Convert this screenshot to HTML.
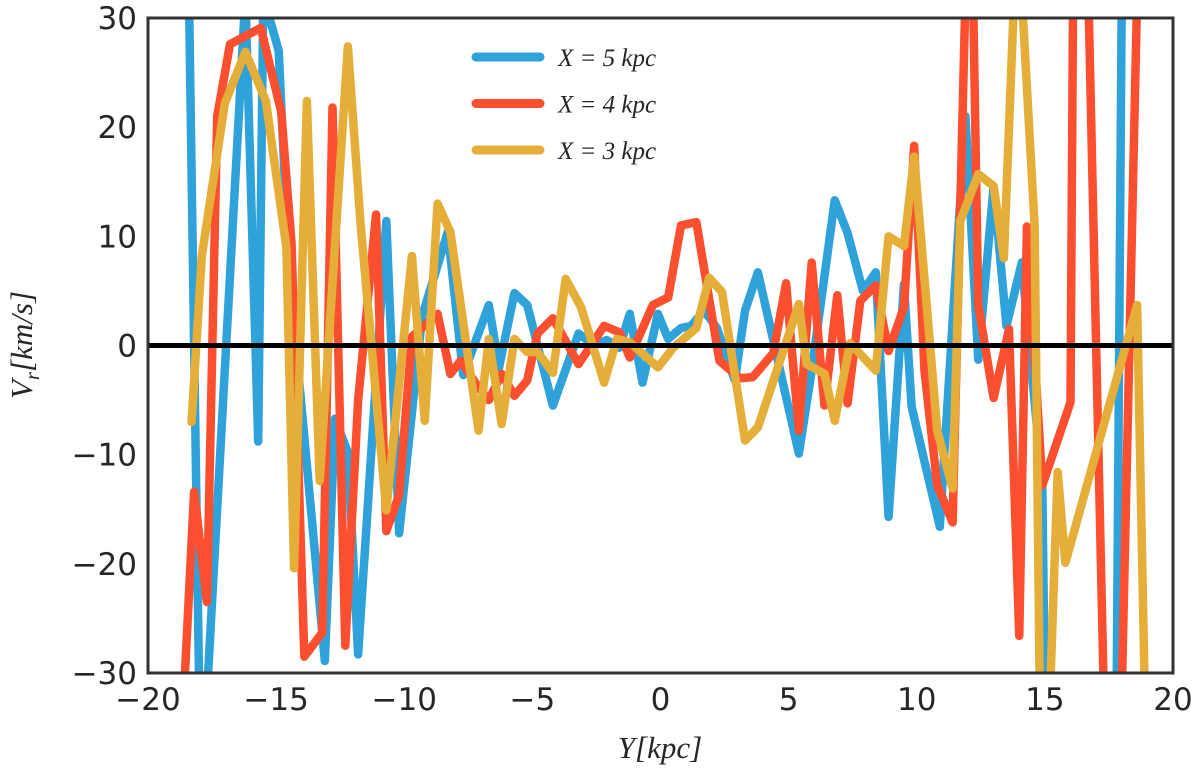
<!DOCTYPE html>
<html><head><meta charset="utf-8"><style>
html,body{margin:0;padding:0;background:#fff;}
svg{display:block;}
.tick{font-family:"DejaVu Sans","Liberation Sans",sans-serif;font-size:31px;fill:#262626;}
.math{font-family:"Liberation Serif",serif;font-style:italic;fill:#262626;}
</style></head><body>
<svg id="chart" width="1200" height="774" viewBox="0 0 1200 774" xmlns="http://www.w3.org/2000/svg">
<defs><clipPath id="plotclip"><rect x="148" y="18" width="1025" height="655"/></clipPath></defs>
<g id="series" clip-path="url(#plotclip)"></g>
<rect x="148" y="18" width="1025" height="655" fill="none" stroke="#333" stroke-width="3"/>
<g id="xticks"></g>
<g id="yticks"></g>
<text class="math" x="660" y="758" text-anchor="middle" font-size="31">Y[kpc]</text>
<text class="math" transform="translate(32,345) rotate(-90)" text-anchor="middle" font-size="31">V<tspan font-size="21" dy="7">r</tspan><tspan dy="-7">[km/s]</tspan></text>
<g id="legend"></g>
</svg>
<script>
const xTicks=[-20,-15,-10,-5,0,5,10,15,20];
const yTicks=[-30,-20,-10,0,10,20,30];
const seriesNames=["X = 5 kpc","X = 4 kpc","X = 3 kpc"];
const blueX=[-18.4,-18.0,-17.7,-16.2,-15.7,-15.5,-14.9,-14.5,-13.1,-12.7,-12.2,-11.8,-10.7,-10.2,-9.3,-8.3,-7.7,-6.7,-6.3,-5.7,-5.2,-4.2,-3.2,-2.6,-2.1,-1.6,-1.2,-0.7,-0.1,0.3,0.8,1.2,1.7,2.2,2.9,3.3,3.8,4.4,5.4,5.9,6.8,7.3,7.9,8.4,8.9,9.5,9.8,10.9,11.9,12.4,13.0,13.5,14.1,14.9,15.0,17.8,18.0];
const blueY=[32,-32,-32,32,-8.8,32,27,7,-28.9,-6.7,-9.8,-28.3,11.4,-17.2,2.7,10.4,-2.7,3.7,-2,4.8,3.7,-5.5,1.1,0,0.5,-0.2,2.9,-3.4,2.9,0.6,1.6,1.8,3.2,1.6,-3.2,3.2,6.7,0.5,-9.9,-2.3,13.3,10.3,5,6.7,-15.7,5.6,-5.6,-16.6,21,-1.3,14.6,1.8,7.6,-12.8,-32,-32,32];
const redX=[-18.6,-18.2,-17.7,-17.3,-16.8,-15.6,-14.8,-14.4,-13.9,-13.2,-12.8,-12.3,-11.8,-11.1,-10.7,-10.2,-9.7,-8.7,-8.2,-7.8,-7.2,-6.7,-6.2,-5.7,-5.2,-4.8,-4.2,-3.2,-2.2,-1.6,-1.2,-0.3,0.3,0.8,1.4,2.3,3.1,3.6,4.4,4.9,5.4,5.9,6.4,6.9,7.3,7.8,8.4,8.9,9.5,9.9,10.3,10.8,11.4,11.9,12.2,12.4,13.0,13.6,14.0,14.3,14.9,16.0,16.1,16.7,17.3,18.0,18.6];
const redY=[-32,-13.4,-23.5,21,27.6,29.1,21.4,9.4,-28.5,-26.3,21.8,-27.5,-5,12,-17,-13.7,0.8,2.9,-2.6,-1.4,-3.5,-5,-2.6,-4.6,-3.2,1.1,2.5,-1.7,1.8,1.2,-1.1,3.7,4.4,11,11.3,-1.4,-3,-2.9,-0.7,5.7,-7.8,7.6,-5.5,4.6,-5.3,4.1,5.5,-0.5,3.5,18.3,-2.3,-12.8,-16.2,32,32,3.7,-4.8,1.5,-26.6,10.9,-12.8,-5.2,32,32,-32,-32,32];
const yellowX=[-18.3,-17.9,-17.0,-16.2,-15.4,-14.6,-14.3,-13.8,-13.3,-12.2,-11.7,-10.7,-9.7,-9.2,-8.7,-8.2,-7.1,-6.7,-6.2,-5.7,-5.2,-4.8,-4.2,-3.7,-3.1,-2.2,-1.7,-1.2,-0.1,0.5,1.4,1.9,2.4,3.3,3.8,5.4,5.7,6.4,6.8,7.4,8.4,8.9,9.5,9.9,10.8,11.4,11.7,12.4,13.0,13.4,13.8,14.1,14.6,14.8,15.2,15.5,15.8,18.6,18.9];
const yellowY=[-7,8.2,22.2,26.9,22.4,9,-20.4,22.4,-12.4,27.4,11,-15.1,8.2,-6.9,13,10.4,-7.8,0.6,-7.2,0.6,-0.6,-0.6,-2.5,6.1,3.5,-3.4,0.6,0.3,-2,-0.2,1.6,6.2,4.9,-8.7,-7.5,3.8,-1.7,-2.6,-6.9,0.2,-2.3,10,9.1,17.3,-7.8,-13.1,11.4,15.7,14.6,8,32,32,11,-32,-32,-11.6,-19.9,3.7,-32];
const colors=["#30a2da","#fc4f30","#e5ae38"];
const NS="http://www.w3.org/2000/svg";
const X0=148,X1=1173,Y0=18,Y1=673;
function sx(v){return X0+(v+20)/40*(X1-X0);}
function sy(v){return Y1-(v+30)/60*(Y1-Y0);}
const gS=document.getElementById('series');
const allX=[blueX,redX,yellowX],allY=[blueY,redY,yellowY];
const snames=['line-x5','line-x4','line-x3'];
for(let s=0;s<3;s++){
  const p=document.createElementNS(NS,'polyline');
  p.setAttribute('points',allX[s].map((x,i)=>sx(x)+','+sy(allY[s][i])).join(' '));
  p.setAttribute('fill','none');p.setAttribute('stroke',colors[s]);
  p.setAttribute('stroke-width','8.5');p.setAttribute('stroke-linejoin','round');p.setAttribute('stroke-linecap','round');
  
  
  gS.appendChild(p);
}
const z=document.createElementNS(NS,'line');
z.setAttribute('x1',X0);z.setAttribute('x2',X1);z.setAttribute('y1',sy(0));z.setAttribute('y2',sy(0));
z.setAttribute('stroke','#000');z.setAttribute('stroke-width','5');


gS.appendChild(z);
const gx=document.getElementById('xticks');
xTicks.forEach(v=>{
  const t=document.createElementNS(NS,'text');
  t.setAttribute('class','tick');t.setAttribute('x',sx(v));t.setAttribute('y',710);t.setAttribute('text-anchor','middle');
  t.textContent=(v<0?'\u2212'+(-v):String(v));
  
  
  gx.appendChild(t);
});
const gy=document.getElementById('yticks');
yTicks.forEach(v=>{
  const t=document.createElementNS(NS,'text');
  t.setAttribute('class','tick');t.setAttribute('x',137);t.setAttribute('y',sy(v)+11);t.setAttribute('text-anchor','end');
  t.textContent=(v<0?'\u2212'+(-v):String(v));
  
  
  gy.appendChild(t);
});
const gl=document.getElementById('legend');
seriesNames.forEach((n,i)=>{
  const y=57+i*46.5;
  const l=document.createElementNS(NS,'line');
  l.setAttribute('x1',476);l.setAttribute('x2',540);l.setAttribute('y1',y);l.setAttribute('y2',y);
  l.setAttribute('stroke',colors[i]);l.setAttribute('stroke-width','9');l.setAttribute('stroke-linecap','round');
  
  
  gl.appendChild(l);
  const t=document.createElementNS(NS,'text');
  t.setAttribute('class','math');t.setAttribute('x',558);t.setAttribute('y',y+9);t.setAttribute('font-size','25');
  t.setAttribute('xml:space','preserve');
  t.textContent=n;
  
  
  gl.appendChild(t);
});
</script>
</body></html>
